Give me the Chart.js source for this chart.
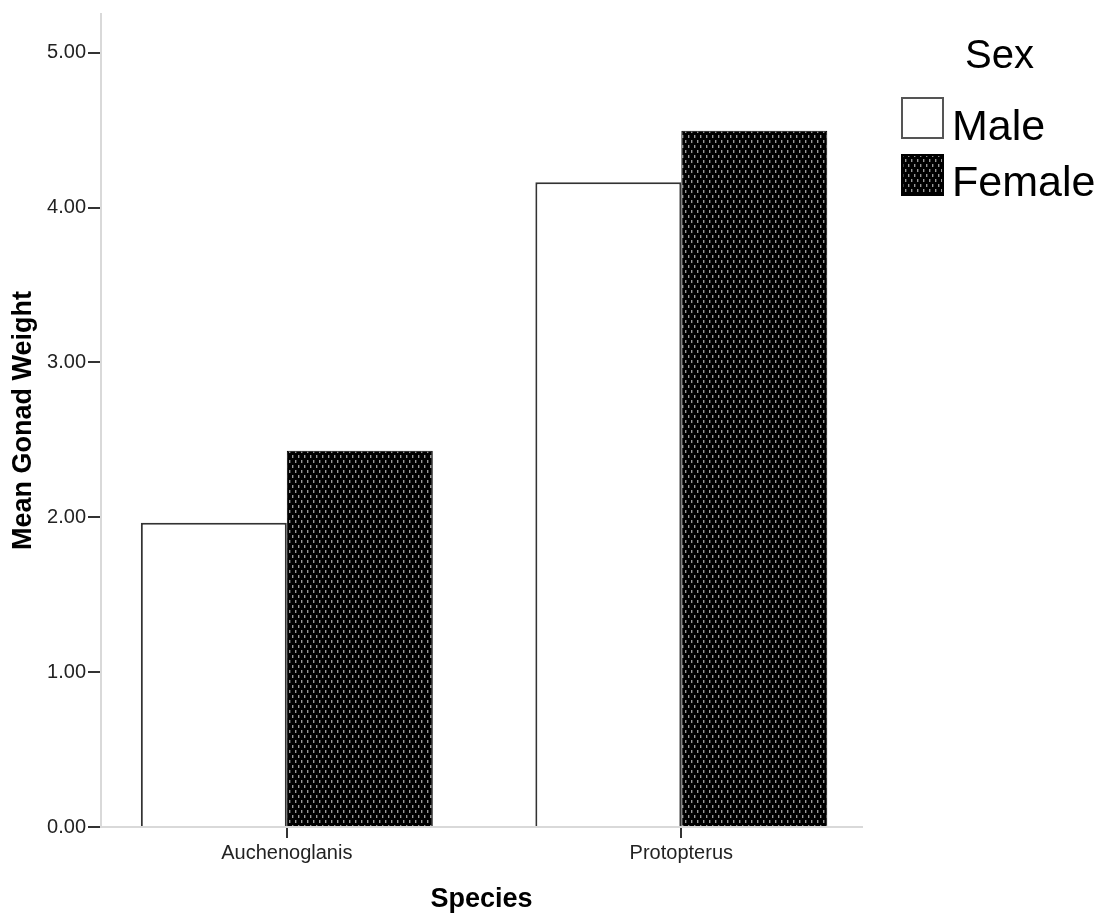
<!DOCTYPE html>
<html>
<head>
<meta charset="utf-8">
<script src="https://cdn.jsdelivr.net/npm/chart.js@4.4.1/dist/chart.umd.min.js"></script>
<style>
    body { margin: 0; background: #fff; }
    #wrap { position: relative; width: 1106px; height: 913px; }
    #legend { position: absolute; left: 0; top: 0; width: 0; height: 0; }
    .legend { font-family: "Liberation Sans", Arial, sans-serif; color: #000; }
    .legend .title { position: absolute; left: 965px; top: 34px; font-size: 40px; line-height: 40px; white-space: nowrap; }
    .legend .item { position: absolute; left: 952px; font-size: 43px; line-height: 43px; white-space: nowrap; }
    .legend .swatch { position: absolute; left: 901px; width: 43px; height: 42px; box-sizing: border-box; }
</style>
</head>
<body>
<div id="wrap">
    <canvas id="gonadChart"></canvas>
    <div class="legend" id="legend"></div>
</div>
<script>
// Chart data
const categories = ["Auchenoglanis", "Protopterus"];
const maleValues = [1.964, 4.163];
const femaleValues = [2.429, 4.496];
const yTicks = [0, 1, 2, 3, 4, 5];
const legendTitle = "Sex";
const seriesNames = ["Male", "Female"];

const FONT = '"Liberation Sans", Arial, sans-serif';

// dark dotted fill used by SPSS for the second group
function makePattern() {
    const c = document.createElement("canvas");
    c.width = 6;
    c.height = 10;
    const g = c.getContext("2d");
    g.fillStyle = "#000";
    g.fillRect(0, 0, 6, 10);
    g.fillStyle = "#9a9a9a";
    g.fillRect(1, 0, 1, 3);
    g.fillRect(4, 5, 1, 3);
    g.fillStyle = "#3a3a3a";
    g.fillRect(2, 0, 1, 3);
    g.fillRect(5, 5, 1, 3);
    return g.createPattern(c, "repeat");
}

function initGonadChart() {
    const ctx = document.getElementById("gonadChart");
    if (!ctx) return;
    const pattern = makePattern();

    new Chart(ctx, {
        type: "bar",
        data: {
            datasets: [
                {
                    label: seriesNames[0],
                    data: maleValues.map((v, i) => ({ x: i, y: v })),
                    backgroundColor: "#ffffff",
                    borderColor: "#333333",
                    borderWidth: 2,
                },
                {
                    label: seriesNames[1],
                    data: femaleValues.map((v, i) => ({ x: i, y: v })),
                    backgroundColor: pattern,
                    borderColor: "#000000",
                    borderWidth: 1,
                },
            ],
        },
        options: {
            responsive: true,
            maintainAspectRatio: false,
            animation: false,
            categoryPercentage: 0.74,
            barPercentage: 1.0,
            layout: {
                padding: { top: 14, right: 244, left: 0, bottom: 0 },
            },
            plugins: {
                legend: { display: false },
                tooltip: { enabled: false },
            },
            scales: {
                x: {
                    type: "linear",
                    min: -0.471,
                    max: 1.458,
                    offset: false,
                    afterBuildTicks: function (scale) {
                        scale.ticks = categories.map((c, i) => ({ value: i }));
                    },
                    afterFit: function (scale) {
                        scale.height = 86;
                    },
                    grid: {
                        offset: false,
                        drawOnChartArea: false,
                        tickLength: 11,
                        tickColor: "#333333",
                        lineWidth: 2,
                    },
                    border: { color: "#d9d9d9", width: 2 },
                    ticks: {
                        autoSkip: false,
                        maxRotation: 0,
                        padding: 3,
                        color: "#222222",
                        font: { family: FONT, size: 20 },
                        callback: function (value) {
                            return categories[value];
                        },
                    },
                    title: {
                        display: true,
                        text: "Species",
                        color: "#000",
                        padding: { top: 0, bottom: 0 },
                        font: { family: FONT, size: 27, weight: "bold", lineHeight: 1 },
                    },
                },
                y: {
                    min: 0,
                    max: 5.25,
                    afterBuildTicks: function (scale) {
                        scale.ticks = yTicks.map((v) => ({ value: v }));
                    },
                    afterFit: function (scale) {
                        scale.width = 101;
                    },
                    grid: {
                        drawOnChartArea: false,
                        tickLength: 13,
                        tickColor: "#333333",
                        lineWidth: 2,
                    },
                    border: { color: "#d9d9d9", width: 2 },
                    ticks: {
                        padding: 2,
                        color: "#222222",
                        font: { family: FONT, size: 20 },
                        callback: function (value) {
                            return Number(value).toFixed(2);
                        },
                    },
                    title: {
                        display: true,
                        text: "Mean Gonad Weight",
                        color: "#000",
                        padding: { top: 10, bottom: 0 },
                        font: { family: FONT, size: 27, weight: "bold", lineHeight: 1 },
                    },
                },
            },
        },
    });

    // legend at the right, SPSS style
    const legend = document.getElementById("legend");
    const title = document.createElement("div");
    title.className = "title";
    title.textContent = legendTitle;
    legend.appendChild(title);

    const swTops = [97, 154];
    const textTops = [104, 160];
    seriesNames.forEach(function (name, i) {
        let sw;
        if (i === 0) {
            sw = document.createElement("div");
            sw.style.border = "2px solid #555";
            sw.style.background = "#fff";
        } else {
            sw = document.createElement("canvas");
            sw.width = 43;
            sw.height = 42;
            const g = sw.getContext("2d");
            g.fillStyle = makePattern();
            g.fillRect(0, 0, 43, 42);
            g.strokeStyle = "#000";
            g.lineWidth = 2;
            g.strokeRect(1, 1, 41, 40);
        }
        sw.className = "swatch";
        sw.style.top = swTops[i] + "px";
        legend.appendChild(sw);

        const t = document.createElement("div");
        t.className = "item";
        t.style.top = textTops[i] + "px";
        t.textContent = name;
        legend.appendChild(t);
    });
}

document.addEventListener("DOMContentLoaded", initGonadChart);
</script>
</body>
</html>
